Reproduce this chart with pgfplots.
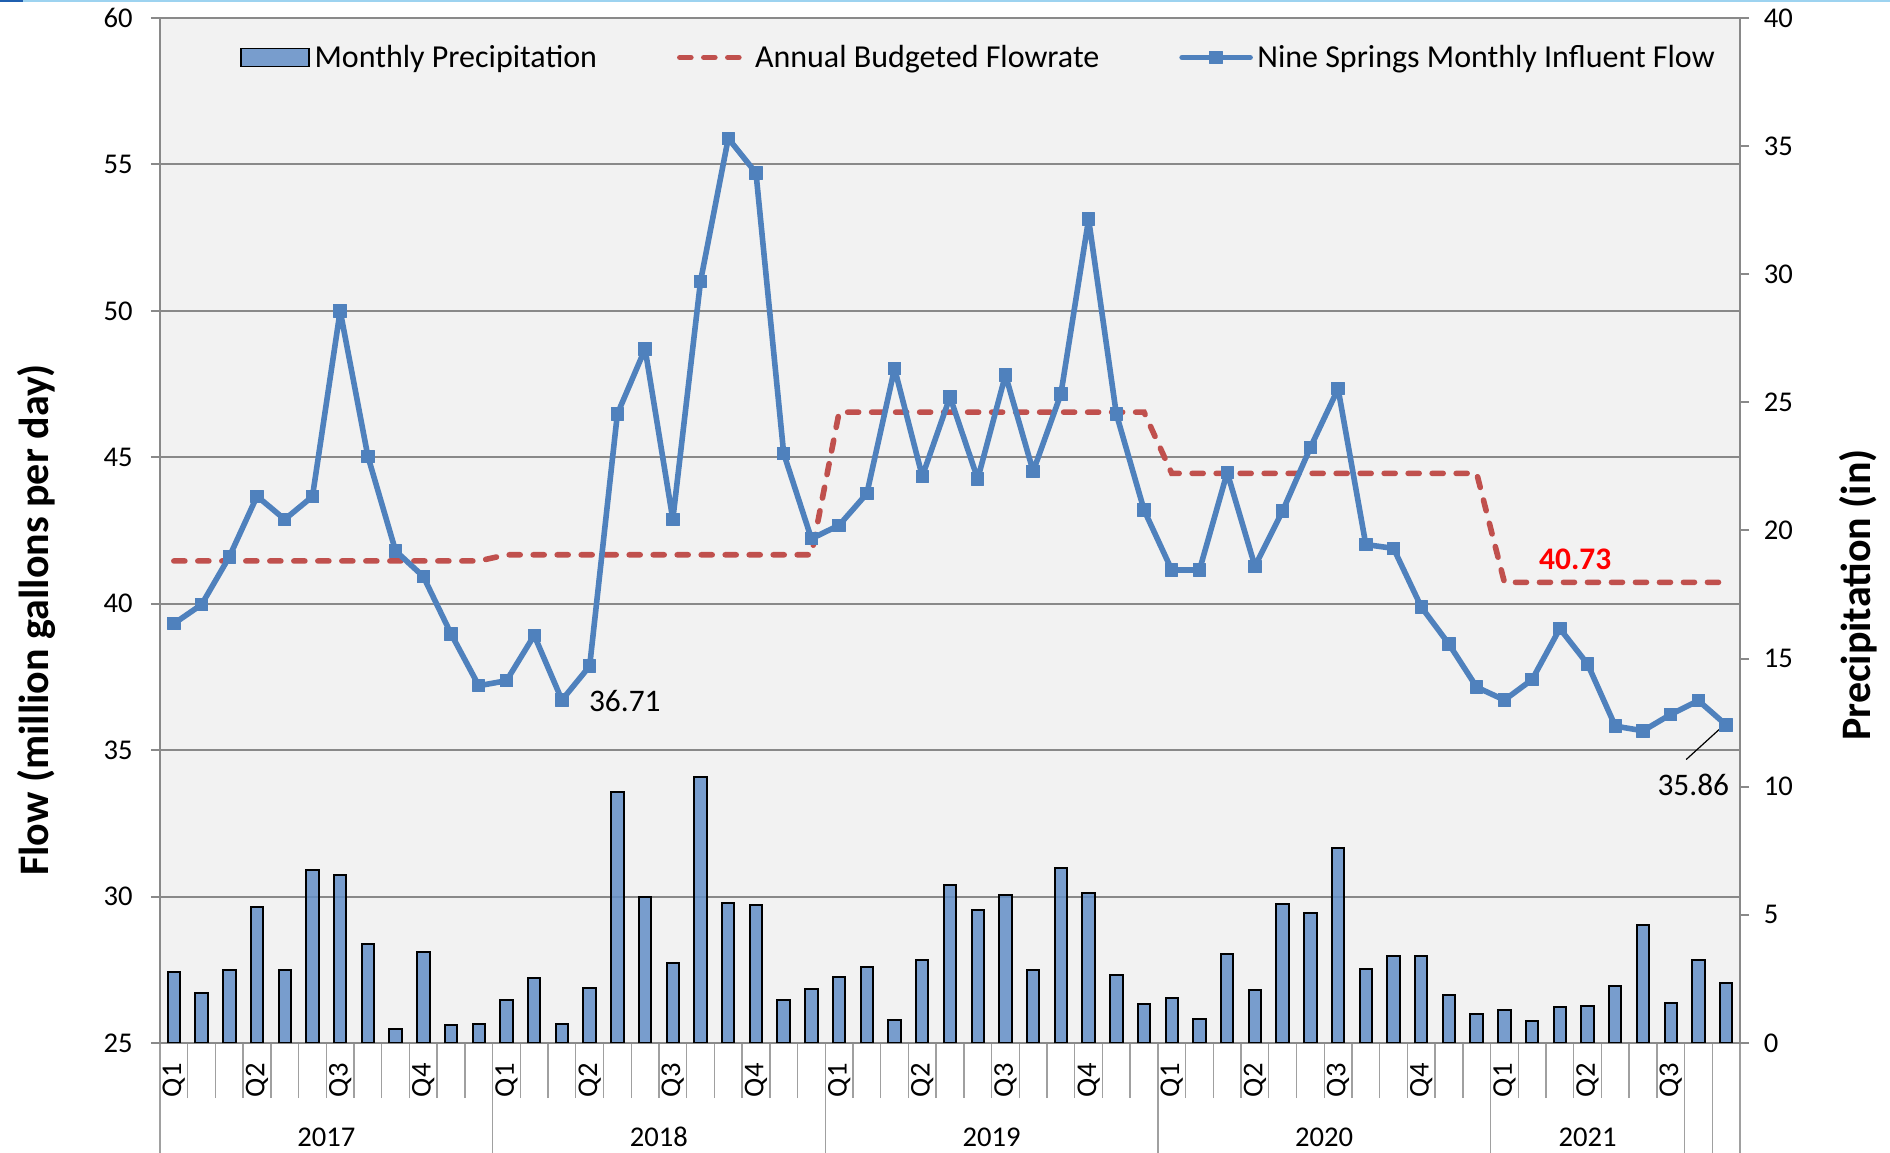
\documentclass[border=0pt]{standalone}
\usepackage{fontspec}
\setmainfont{Carlito}
\usepackage{pgfplots}
\usepackage{pgfplotstable}
\pgfplotsset{compat=1.18}

\definecolor{plotbg}{HTML}{F2F2F2}
\definecolor{gridgray}{HTML}{898989}
\definecolor{tickgray}{HTML}{A0A0A0}
\definecolor{flowblue}{HTML}{4F81BD}
\definecolor{budgetred}{HTML}{C0504D}
\definecolor{barblue}{HTML}{638FC7}
\definecolor{hotred}{HTML}{FF0000}
\definecolor{topblue}{HTML}{9DD3F0}
\definecolor{darkblue}{HTML}{1F5FAF}

% month index 0 = Jan 2017 ... 56 = Sep 2021
\pgfplotstableread{
m flow budget precip
0 39.32 41.46 2.76
1 39.97 41.46 1.95
2 41.60 41.46 2.83
3 43.67 41.46 5.31
4 42.88 41.46 2.83
5 43.66 41.46 6.74
6 50.00 41.46 6.54
7 45.03 41.46 3.86
8 41.80 41.46 0.55
9 40.93 41.46 3.56
10 38.97 41.46 0.69
11 37.20 41.46 0.73
12 37.37 41.67 1.68
13 38.92 41.67 2.52
14 36.71 41.67 0.75
15 37.87 41.67 2.16
16 46.48 41.67 9.79
17 48.70 41.67 5.69
18 42.88 41.67 3.12
19 51.01 41.67 10.39
20 55.89 41.67 5.48
21 54.71 41.67 5.37
22 45.13 41.67 1.69
23 42.22 41.67 2.12
24 42.68 46.54 2.56
25 43.76 46.54 2.95
26 48.03 46.54 0.91
27 44.35 46.54 3.22
28 47.06 46.54 6.17
29 44.26 46.54 5.18
30 47.81 46.54 5.78
31 44.52 46.54 2.85
32 47.16 46.54 6.81
33 53.13 46.54 5.85
34 46.48 46.54 2.64
35 43.20 46.54 1.53
36 41.15 44.45 1.75
37 41.15 44.45 0.94
38 44.48 44.45 3.48
39 41.28 44.45 2.05
40 43.17 44.45 5.43
41 45.33 44.45 5.09
42 47.34 44.45 7.61
43 42.02 44.45 2.88
44 41.89 44.45 3.40
45 39.89 44.45 3.38
46 38.62 44.45 1.86
47 37.15 44.45 1.12
48 36.71 40.73 1.27
49 37.41 40.73 0.85
50 39.15 40.73 1.41
51 37.94 40.73 1.45
52 35.82 40.73 2.21
53 35.66 40.73 4.61
54 36.22 40.73 1.57
55 36.69 40.73 3.22
56 35.86 40.73 2.34
}\monthly

\newcommand{\tickfont}{\fontsize{14.3}{17}\selectfont}
\newcommand{\annfont}{\fontsize{15.7}{19}\selectfont}

\pgfplotsset{
  base/.style={scale only axis, width=790pt, height=512.5pt,
    at={(0pt,0pt)}, anchor=south west, xmin=-0.5, xmax=56.5},
  barlegend/.style={legend image code/.code={
    \draw[fill=barblue, fill opacity=0.85, draw=black, line width=0.9pt] (0pt,-4.5pt) rectangle (34pt,4.5pt);}},
  dashlegend/.style={legend image code/.code={\draw[##1] (0pt,0pt) -- (34pt,0pt);}},
  marklegend/.style={legend image code/.code={
    \draw[mark repeat=2, mark phase=2, ##1] plot coordinates {(0pt,0pt) (17pt,0pt) (34pt,0pt)};}},
}
\tikzset{qlab/.style={rotate=90, anchor=east, inner sep=0pt, font=\tickfont}}

\begin{document}
\begin{tikzpicture}
% background, grid and category axis
\begin{axis}[base, name=A, clip=false,
  ymin=25, ymax=60, ytick={25,30,...,60}, yticklabels={},
  ytick style={draw=none},
  axis background/.style={fill=plotbg},
  ymajorgrids, grid style={gridgray, line width=1pt},
  axis line style={gridgray, line width=1pt},
  xtick={-0.5,0.5,...,56.5}, xticklabels={},
  minor xtick={-0.5,11.5,23.5,35.5,47.5,54.5,55.5,56.5},
  xtick pos=left, tick align=outside,
  major tick length=27.5pt, minor tick length=55pt,
  xtick style={tickgray, line width=0.7pt},
]
\addplot[draw=none] coordinates {(0,40)};
\pgfplotsinvokeforeach{0,12,24,36,48}{\node[qlab] at ([yshift=-10pt]axis cs:#1,25) {Q1};}
\pgfplotsinvokeforeach{3,15,27,39,51}{\node[qlab] at ([yshift=-10pt]axis cs:#1,25) {Q2};}
\pgfplotsinvokeforeach{6,18,30,42,54}{\node[qlab] at ([yshift=-10pt]axis cs:#1,25) {Q3};}
\pgfplotsinvokeforeach{9,21,33,45}{\node[qlab] at ([yshift=-10pt]axis cs:#1,25) {Q4};}
\node[anchor=base, font=\tickfont] at ([yshift=-51.7pt]axis cs:5.5,25) {2017};
\node[anchor=base, font=\tickfont] at ([yshift=-51.7pt]axis cs:17.5,25) {2018};
\node[anchor=base, font=\tickfont] at ([yshift=-51.7pt]axis cs:29.5,25) {2019};
\node[anchor=base, font=\tickfont] at ([yshift=-51.7pt]axis cs:41.5,25) {2020};
\node[anchor=base, font=\tickfont] at ([yshift=-51.7pt]axis cs:51,25) {2021};
\end{axis}

% precipitation bars, right axis
\begin{axis}[base,
  ymin=0, ymax=40, ytick={0,5,...,40},
  axis y line*=right, axis x line=none,
  y axis line style={gridgray, line width=1pt, -},
  tick align=outside, major tick length=4.5pt,
  ytick style={gridgray, line width=1pt},
  yticklabel style={font=\tickfont, anchor=west, inner sep=0pt, xshift=7.25pt},
  /pgf/number format/assume math mode=true,
]
\addplot[ybar, bar width=6.2pt, fill=barblue, fill opacity=0.85, draw=black, line width=1pt]
  table[x=m, y=precip] {\monthly};
\end{axis}

% flow lines, left axis
\begin{axis}[base,
  ymin=25, ymax=60, ytick={25,30,...,60},
  axis y line*=left, axis x line=none,
  y axis line style={gridgray, line width=1pt, -},
  tick align=outside, major tick length=4.5pt,
  ytick style={gridgray, line width=1pt},
  yticklabel style={font=\tickfont, anchor=east, inner sep=0pt, xshift=-9pt},
  /pgf/number format/assume math mode=true,
  legend columns=3,
  legend cell align=left,
  legend style={draw=none, fill=none, inner sep=0pt,
    at={(axis description cs:0,1)}, anchor=west, xshift=40pt, yshift=-19.75pt,
    font=\fontsize{16}{19}\selectfont,
    /tikz/every even column/.append style={column sep=38pt},
    /tikz/every odd column/.append style={column sep=0.2pt}},
]
\addlegendimage{barlegend}
\addlegendentry{Monthly Precipitation}

\addplot[budgetred, line width=2.8pt, line cap=round, dash pattern=on 5.5pt off 6.5pt, dashlegend]
  table[x=m, y=budget] {\monthly};
\addlegendentry{Annual Budgeted Flowrate}

\addplot[flowblue, line width=2.8pt, line join=round, line cap=round,
  mark=square*, mark size=3.1pt, mark options={solid, fill=flowblue, draw=flowblue, line width=0.5pt},
  marklegend]
  table[x=m, y=flow] {\monthly};
\addlegendentry{Nine Springs Monthly Influent Flow}

\node[anchor=base west, font=\annfont] at ([xshift=10pt, yshift=-5.5pt]axis cs:14,36.71) {36.71};
\node[anchor=base west, font=\annfont\bfseries, text=hotred] at ([xshift=0pt, yshift=6.25pt]axis cs:49,40.73) {40.73};
\draw[black, line width=0.6pt] ([xshift=-1pt]axis cs:56,35.86) -- ([xshift=-20pt, yshift=-17.3pt]axis cs:56,35.86);
\node[anchor=base west, font=\annfont] at ([xshift=-37.85pt, yshift=-35.5pt]axis cs:56,35.86) {35.86};
\end{axis}

\node[rotate=90, anchor=base, font=\fontsize{21}{25}\selectfont\bfseries]
  at ([xshift=-55.5pt, yshift=211.5pt]A.south west) {Flow (million gallons per day)};
\node[rotate=90, anchor=base, font=\fontsize{21}{25}\selectfont\bfseries]
  at ([xshift=65pt, yshift=224pt]A.south east) {Precipitation (in)};

\fill[topblue] ([xshift=-80pt, yshift=9pt]A.north west) rectangle ++(945pt,-0.8pt);
\fill[darkblue] ([xshift=-80pt, yshift=9pt]A.north west) rectangle ++(11.5pt,-0.8pt);

\pgfresetboundingbox
\path ([xshift=-80pt, yshift=-55pt]A.south west) rectangle ([xshift=75pt, yshift=9pt]A.north east);
\end{tikzpicture}
\end{document}
